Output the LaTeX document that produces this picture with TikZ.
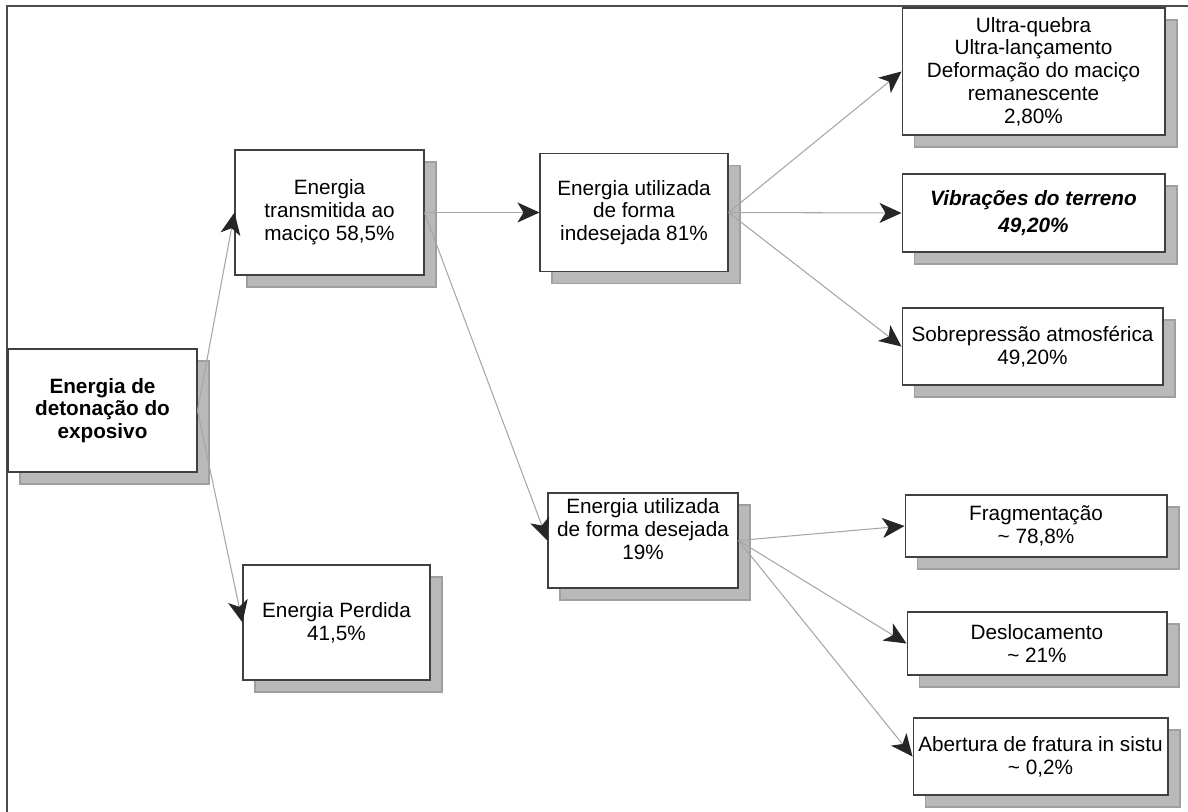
\documentclass[tikz,border=0pt]{standalone}
\usepackage{fontspec}
\setmainfont{Liberation Sans}
\usetikzlibrary{arrows.meta,shadows}

\begin{document}
\begin{tikzpicture}[x=0.02cm,y=-0.02cm]
            \tikzstyle{caixa} = [rectangle, draw=black!75, line width=0.6pt, fill=white, align=center, inner sep=2pt, font=\fontsize{11.8}{13}\selectfont, general shadow={shadow xshift=0.24cm, shadow yshift=-0.24cm, fill=gray!55, draw=gray!75}]
            \tikzstyle{seta} = [draw=gray!70, line width=0.6pt, -{Stealth[length=0.44cm, width=0.4cm, inset=0.12cm, color=black!85]}]

            \useasboundingbox (0,0) rectangle (1188,812);
            \draw [black!70, line width=0.8pt] (7,812) -- (7,6) -- (1188,6);

            \node (detonacao) [caixa, minimum width=3.78cm, minimum height=2.46cm, font=\fontsize{11.8}{13}\selectfont\bfseries] at (102.5,410.5) {Energia de\\detonação do\\exposivo};
            \node (transmitida) [caixa, minimum width=3.78cm, minimum height=2.5cm] at (329.5,212.5) {Energia\\transmitida ao\\maciço 58,5\%};
            \node (perdida) [caixa, minimum width=3.74cm, minimum height=2.3cm] at (336.5,622.5) {Energia Perdida\\41,5\%};
            \node (indesejada) [caixa, minimum width=3.76cm, minimum height=2.36cm] at (634,212.5) {Energia utilizada\\de forma\\indesejada 81\%};
            \node (desejada) [caixa, minimum width=3.8cm, minimum height=1.9cm] at (643,540.5) {Energia utilizada\\de forma desejada\\19\%\\\mbox{}};

            \node (ultra) [caixa, minimum width=5.26cm, minimum height=2.54cm] at (1033.5,71.5) {Ultra-quebra\\Ultra-lançamento\\Deformação do maciço\\remanescente\\2,80\%};
            \node (vibracoes) [caixa, minimum width=5.26cm, minimum height=1.56cm, font=\fontsize{11.8}{13}\selectfont\bfseries\itshape] at (1033.5,213) {Vibrações do terreno\\[2pt]49,20\%};
            \node (sobrepressao) [caixa, minimum width=5.22cm, minimum height=1.54cm] at (1032.5,346.5) {Sobrepressão atmosférica\\49,20\%};
            \node (fragmentacao) [caixa, minimum width=5.24cm, minimum height=1.24cm] at (1036,526) {Fragmentação\\\textasciitilde{} 78,8\%};
            \node (deslocamento) [caixa, minimum width=5.2cm, minimum height=1.26cm] at (1037,643.5) {Deslocamento\\\textasciitilde{} 21\%};
            \node (abertura) [caixa, minimum width=5.1cm, minimum height=1.54cm] at (1040.5,756.5) {Abertura de fratura in sistu\\\textasciitilde{} 0,2\%};

            \draw [seta] (detonacao.east) -- (transmitida.west);
            \draw [seta] (detonacao.east) -- (perdida.west);
            \draw [seta] (transmitida.east) -- (indesejada.west);
            \draw [seta] (transmitida.east) -- (desejada.west);
            \draw [seta] (indesejada.east) -- (ultra.west);
            \draw [seta] (indesejada.east) -- (vibracoes.west);
            \draw [seta] (indesejada.east) -- (sobrepressao.west);
            \draw [seta] (desejada.east) -- (fragmentacao.west);
            \draw [seta] (desejada.east) -- (deslocamento.west);
            \draw [seta] (desejada.east) -- (abertura.west);
        \end{tikzpicture}
\end{document}
